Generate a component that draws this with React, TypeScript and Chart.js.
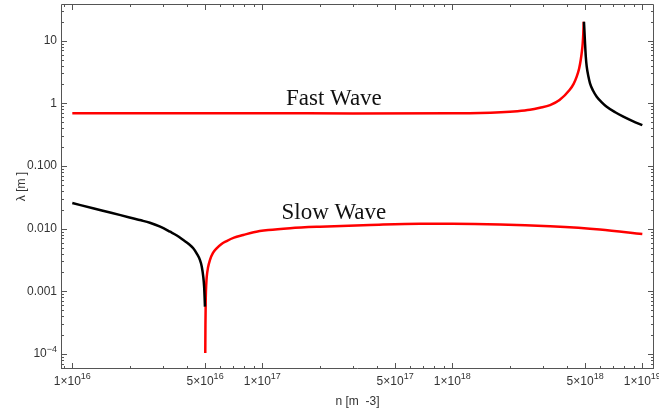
import React, { useEffect, useRef } from "react";
import { Chart, registerables } from "chart.js";

Chart.register(...registerables);

// ---- data (n in m^-3, lambda in m) ----
const fastRedN = [1e16, 3e16, 1e17, 3e17, 1e18, 1.4e18, 1.8e18, 2.2e18, 2.56e18, 2.89e18, 3.27e18, 3.667e18, 4.139e18, 4.35e18, 4.515e18, 4.65e18, 4.74e18, 4.81e18, 4.857e18, 4.89e18, 4.916e18];
const fastRedL = [0.694, 0.694, 0.694, 0.692, 0.694, 0.7, 0.72, 0.75, 0.79, 0.852, 0.94, 1.13, 1.63, 2.05, 2.665, 3.6, 4.92, 6.8, 9.19, 13, 20.1];
const fastBlackN = [4.93e18, 4.96e18, 4.994e18, 5.04e18, 5.098e18, 5.2e18, 5.305e18, 5.5e18, 5.754e18, 6.1e18, 6.494e18, 7.2e18, 7.943e18, 8.9e18, 1e19];
const fastBlackL = [20.1, 14, 9.19, 5.6, 3.85, 2.7, 2.09, 1.6, 1.277, 1.05, 0.884, 0.72, 0.612, 0.52, 0.448];
const slowBlackN = [1e16, 1.3e16, 1.6e16, 2e16, 2.3e16, 2.56e16, 2.9e16, 3.27e16, 3.55e16, 3.84e16, 4.1e16, 4.33e16, 4.52e16, 4.7e16, 4.8e16, 4.89e16, 4.94e16, 4.97e16, 4.99e16];
const slowBlackL = [0.0257, 0.021, 0.018, 0.0151, 0.0136, 0.01245, 0.0108, 0.00895, 0.0078, 0.00659, 0.0057, 0.00486, 0.004, 0.00316, 0.0025, 0.00171, 0.0012, 0.0008, 0.00057];
const slowRedN = [5.01e16, 5.02e16, 5.04e16, 5.07e16, 5.1e16, 5.18e16, 5.3e16, 5.5e16, 5.75e16, 6.1e16, 6.49e16, 7.1e16, 7.94e16, 9e16, 1.075e17, 1.4e17, 2.01e17, 3.69e17, 6.76e17, 1e18, 1.78e18, 3.27e18, 5.98e18, 1e19];
const slowRedL = [1.04e-4, 3e-4, 8e-4, 0.0013, 0.00171, 0.0024, 0.00316, 0.0041, 0.00486, 0.0057, 0.00635, 0.0072, 0.00793, 0.0088, 0.00953, 0.0102, 0.01076, 0.01146, 0.012, 0.012, 0.0117, 0.0109, 0.0097, 0.0082];

const xTickVals = [1e16, 5e16, 1e17, 5e17, 1e18, 5e18, 1e19];
const xTickBase = ["1×10", "5×10", "1×10", "5×10", "1×10", "5×10", "1×10"];
const xTickExp = ["16", "16", "17", "17", "18", "18", "19"];
const yTickVals = [10, 1, 0.1, 0.01, 0.001, 1e-4];
const yTickBase = ["10", "1", "0.100", "0.010", "0.001", "10"];
const yTickExp = ["", "", "", "", "", "−4"];

const xTitle = "n [m  -3]";
const yTitle = "λ [m ]";

const annText = ["Fast Wave", "Slow Wave"];
const annN = [2.38e17, 2.38e17];
const annL = [0.942, 0.01426];

const X_MIN = 8.72e15;
const X_MAX = 1.152e19;
const Y_MIN = 5.77e-5;
const Y_MAX = 38.5;

const pts = (xs: number[], ys: number[]) => xs.map((x, i) => ({ x, y: ys[i] }));

const FONT = "'Liberation Sans', Arial, sans-serif";

function drawSup(ctx: CanvasRenderingContext2D, base: string, exp: string, x: number, y: number, align: "center" | "right") {
  ctx.font = `12px ${FONT}`;
  const wb = ctx.measureText(base).width;
  ctx.font = `9px ${FONT}`;
  const we = exp ? ctx.measureText(exp).width : 0;
  const total = wb + we;
  const start = align === "center" ? x - total / 2 : x - total;
  ctx.textAlign = "left";
  ctx.textBaseline = "middle";
  ctx.font = `12px ${FONT}`;
  ctx.fillText(base, start, y);
  if (exp) {
    ctx.font = `9px ${FONT}`;
    ctx.fillText(exp, start + wb, y - 5);
  }
}

const framePlugin = {
  id: "framePlugin",
  afterDatasetsDraw(chart: any) {
    const ctx: CanvasRenderingContext2D = chart.ctx;
    const xs = chart.scales.x;
    const ys = chart.scales.y;
    const a = chart.chartArea;
    ctx.save();
    ctx.strokeStyle = "#555";
    ctx.lineWidth = 1;
    ctx.beginPath();
    ctx.rect(Math.round(a.left) + 0.5, Math.round(a.top) + 0.5, Math.round(a.right - a.left) - 1, Math.round(a.bottom - a.top) - 1);
    ctx.stroke();
    ctx.beginPath();
    for (let k = -6; k <= 2; k++) {
      for (let m = 1; m <= 9; m++) {
        const v = m * Math.pow(10, k);
        if (v < Y_MIN || v > Y_MAX) continue;
        const py = Math.round(ys.getPixelForValue(v)) + 0.5;
        const len = m === 1 ? 6 : 3;
        ctx.moveTo(a.left, py);
        ctx.lineTo(a.left + len, py);
        ctx.moveTo(a.right, py);
        ctx.lineTo(a.right - len, py);
      }
    }
    for (let k = 15; k <= 19; k++) {
      for (let m = 1; m <= 9; m++) {
        const v = m * Math.pow(10, k);
        if (v < X_MIN || v > X_MAX) continue;
        const px = Math.round(xs.getPixelForValue(v)) + 0.5;
        const len = m === 1 || m === 5 ? 6 : 3;
        ctx.moveTo(px, a.bottom);
        ctx.lineTo(px, a.bottom - len);
        ctx.moveTo(px, a.top);
        ctx.lineTo(px, a.top + len);
      }
    }
    ctx.stroke();

    ctx.fillStyle = "#333";
    yTickVals.forEach((v, i) => {
      const py = ys.getPixelForValue(v);
      drawSup(ctx, yTickBase[i], yTickExp[i], a.left - 4, py, "right");
    });
    xTickVals.forEach((v, i) => {
      const px = xs.getPixelForValue(v);
      drawSup(ctx, xTickBase[i], xTickExp[i], px, a.bottom + 13, "center");
    });

    ctx.font = `12px ${FONT}`;
    ctx.textAlign = "center";
    ctx.textBaseline = "middle";
    ctx.fillText(xTitle, (a.left + a.right) / 2, a.bottom + 33);
    ctx.save();
    ctx.translate(22, (a.top + a.bottom) / 2);
    ctx.rotate(-Math.PI / 2);
    ctx.fillText(yTitle, 0, 0);
    ctx.restore();

    ctx.fillStyle = "#111";
    ctx.font = `23px 'Liberation Serif', 'Times New Roman', serif`;
    ctx.textAlign = "center";
    ctx.textBaseline = "alphabetic";
    annText.forEach((t, i) => {
      ctx.fillText(t, xs.getPixelForValue(annN[i]), ys.getPixelForValue(annL[i]));
    });
    ctx.restore();
  },
};

export default function App() {
  const ref = useRef<HTMLCanvasElement | null>(null);
  useEffect(() => {
    document.body.style.margin = "0";
    const canvas = ref.current!;
    const common = { showLine: true, pointRadius: 0, borderWidth: 2.5, fill: false, cubicInterpolationMode: "monotone" };
    const chart = new Chart(canvas, {
      type: "scatter",
      data: {
        datasets: [
          { ...common, data: pts(fastBlackN, fastBlackL), borderColor: "#000" },
          { ...common, data: pts(slowBlackN, slowBlackL), borderColor: "#000" },
          { ...common, data: pts(fastRedN, fastRedL), borderColor: "#ff0000" },
          { ...common, data: pts(slowRedN, slowRedL), borderColor: "#ff0000" },
        ] as any,
      },
      options: {
        animation: false,
        responsive: false,
        maintainAspectRatio: false,
        layout: { padding: { left: 61, right: 5, top: 4, bottom: 44 } },
        plugins: { legend: { display: false }, tooltip: { enabled: false } },
        scales: {
          x: { type: "logarithmic", min: X_MIN, max: X_MAX, display: false },
          y: { type: "logarithmic", min: Y_MIN, max: Y_MAX, display: false },
        },
      },
      plugins: [framePlugin],
    });
    return () => chart.destroy();
  }, []);
  return <canvas ref={ref} width={659} height={413} style={{ display: "block" }} />;
}
